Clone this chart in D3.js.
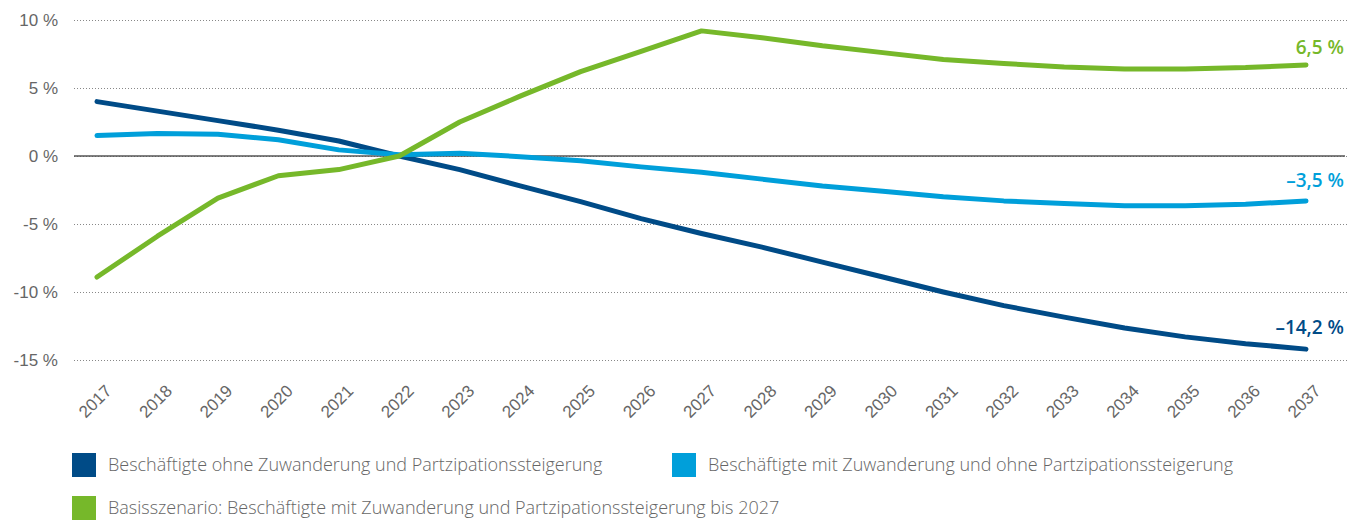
<!DOCTYPE html>
<html>
<head>
<meta charset="utf-8">
<script src="https://cdn.jsdelivr.net/npm/d3@7"></script>
<style>
  body { margin: 0; background: #fff; }
  svg { display: block; font-family: "Open Sans", "Noto Sans", sans-serif; }
</style>
</head>
<body>
<div id="chart"></div>
<script>
// years on the x axis
const years = d3.range(2017, 2038);

// series values in %
const ohneZuwanderung = [4.0, 3.3, 2.6, 1.9, 1.1, 0.0, -1.0, -2.2, -3.35, -4.6, -5.7, -6.7, -7.8, -8.9, -10.0, -11.0, -11.85, -12.65, -13.3, -13.8, -14.2];
const mitZuwanderung = [1.5, 1.65, 1.6, 1.2, 0.45, 0.1, 0.2, -0.05, -0.35, -0.8, -1.2, -1.7, -2.2, -2.6, -3.0, -3.3, -3.5, -3.65, -3.65, -3.55, -3.3];
const basisszenario = [-8.9, -5.9, -3.1, -1.45, -1.0, 0.0, 2.5, 4.4, 6.2, 7.7, 9.2, 8.7, 8.1, 7.6, 7.1, 6.8, 6.55, 6.4, 6.4, 6.5, 6.7];

const yTicks = [10, 5, 0, -5, -10, -15];
const seriesNames = [
  "Beschäftigte ohne Zuwanderung und Partzipationssteigerung",
  "Beschäftigte mit Zuwanderung und ohne Partzipationssteigerung",
  "Basisszenario: Beschäftigte mit Zuwanderung und Partzipationssteigerung bis 2027"
];
const endLabels = ["–14,2 %", "–3,5 %", "6,5 %"];
const colors = ["#004b87", "#009fda", "#76b82a"];

const series = [ohneZuwanderung, mitZuwanderung, basisszenario];

const W = 1349, H = 520;
const svg = d3.select("#chart").append("svg").attr("width", W).attr("height", H);

const x = d3.scaleLinear().domain([2017, 2037]).range([97, 1306]);
const y = d3.scaleLinear().domain([-15, 10]).range([360, 20]);

// grid + y labels
const gridLeft = 74;
const yAxis = svg.append("g")
  .attr("transform", `translate(${gridLeft},0)`)
  .call(d3.axisLeft(y).tickValues(yTicks).tickSize(-(W - gridLeft)).tickPadding(16)
    .tickFormat(d => d + " %"));
yAxis.select(".domain").remove();
yAxis.selectAll(".tick line")
  .attr("stroke", "#888")
  .attr("stroke-dasharray", "1,2")
  .attr("stroke-width", 1);
yAxis.selectAll(".tick text")
  .attr("fill", "#666")
  .style("font-size", "17px")
  .style("font-weight", 300);

// zero line
svg.append("line")
  .attr("x1", gridLeft).attr("x2", W - 4)
  .attr("y1", y(0)).attr("y2", y(0))
  .attr("stroke", "#555").attr("stroke-width", 1.3);

// x labels
const xAxis = svg.append("g")
  .attr("transform", "translate(0,360)")
  .call(d3.axisBottom(x).tickValues(years).tickSize(0).tickFormat(d => String(d)));
xAxis.select(".domain").remove();
xAxis.selectAll(".tick text")
  .attr("fill", "#666")
  .style("font-size", "17px")
  .style("font-weight", 300)
  .style("text-anchor", "end")
  .attr("dy", 0)
  .attr("transform", "translate(13,30) rotate(-45)");

// lines
const line = d3.line()
  .x((d, i) => x(years[i]))
  .y(d => y(d));

series.forEach((s, k) => {
  svg.append("path")
    .datum(s)
    .attr("d", line)
    .attr("fill", "none")
    .attr("stroke", colors[k])
    .attr("stroke-width", 5)
    .attr("stroke-linecap", "round")
    .attr("stroke-linejoin", "round");
});

// end labels
const labelY = [327, 180, 47];
series.forEach((s, k) => {
  svg.append("text")
    .attr("x", W - 5)
    .attr("y", labelY[k])
    .attr("dy", "0.35em")
    .attr("text-anchor", "end")
    .attr("fill", colors[k])
    .style("font-size", "19px")
    .style("font-weight", 600)
    .text(endLabels[k]);
});

// legend
const legendPos = [[72, 465], [672, 465], [72, 508]];
seriesNames.forEach((name, k) => {
  const g = svg.append("g").attr("transform", `translate(${legendPos[k][0]},${legendPos[k][1]})`);
  g.append("rect")
    .attr("x", 0).attr("y", -12)
    .attr("width", 24).attr("height", 24)
    .attr("fill", colors[k]);
  g.append("text")
    .attr("x", 36).attr("y", 0)
    .attr("dy", "0.35em")
    .attr("fill", "#666")
    .style("font-size", "18px")
    .style("font-weight", 300)
    .text(name);
});
</script>
</body>
</html>
